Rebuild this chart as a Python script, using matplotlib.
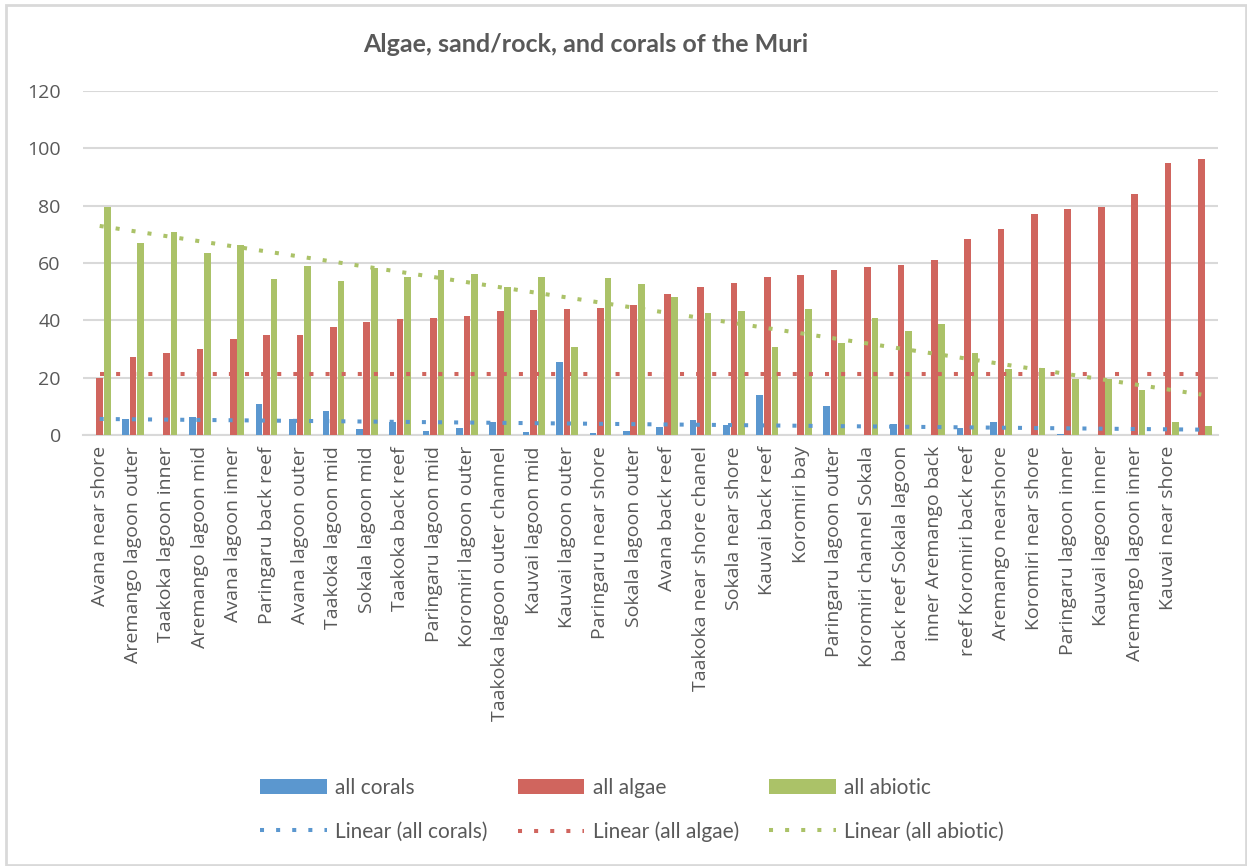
import numpy as np
import matplotlib
matplotlib.use('Agg')
import matplotlib.pyplot as plt
from matplotlib.patches import Rectangle

# survey sites along the Muri lagoon, sorted by algae cover
sites = ['Avana near shore', 'Aremango lagoon outer', 'Taakoka lagoon inner',
         'Aremango lagoon mid', 'Avana lagoon inner', 'Paringaru back reef',
         'Avana lagoon outer', 'Taakoka lagoon mid', 'Sokala lagoon mid',
         'Taakoka back reef', 'Paringaru lagoon mid', 'Koromiri lagoon outer',
         'Taakoka lagoon outer channel', 'Kauvai lagoon mid', 'Kauvai lagoon outer',
         'Paringaru near shore', 'Sokala lagoon outer', 'Avana back reef',
         'Taakoka near shore chanel', 'Sokala near shore', 'Kauvai back reef',
         'Koromiri bay', 'Paringaru lagoon outer', 'Koromiri channel Sokala',
         'back reef Sokala lagoon', 'inner Aremango back', 'reef Koromiri back reef',
         'Aremango nearshore', 'Koromiri near shore', 'Paringaru lagoon inner',
         'Kauvai lagoon inner', 'Aremango lagoon inner', 'Kauvai near shore', '']

corals = [0, 5.7, 0, 6.3, 0, 10.9, 5.7, 8.3, 2.1, 4.4, 1.4, 2.3, 4.4, 1.0, 25.3, 0.6, 1.5,
          2.7, 5.3, 3.5, 14.0, 0, 10.0, 0, 4.0, 0, 2.4, 4.6, 0, 0.5, 0, 0, 0, 0]
algae = [20.0, 27.1, 28.7, 29.9, 33.6, 34.8, 34.8, 37.8, 39.5, 40.6, 40.8, 41.4, 43.3,
         43.6, 43.8, 44.3, 45.5, 49.2, 51.7, 53.0, 55.1, 55.9, 57.6, 58.7, 59.4, 61.2,
         68.3, 71.7, 77.1, 79.0, 79.7, 84.0, 94.9, 96.4]
abiotic = [79.7, 67.1, 70.9, 63.4, 66.2, 54.3, 59.1, 53.6, 58.1, 55.0, 57.6, 56.0, 51.7,
           55.1, 30.7, 54.7, 52.6, 48.0, 42.6, 43.1, 30.7, 44.0, 32.2, 40.7, 36.3, 38.7,
           28.5, 22.9, 23.2, 19.7, 19.7, 15.6, 4.6, 3.3]
# the algae trendline in the workbook sits flat at this level
algae_trend = [21.2, 21.2]

c_blue = '#5B97CF'
c_red = '#D0655E'
c_green = '#ABC268'
txt = '#595959'
grid = '#D9D9D9'

fig = plt.figure(figsize=(12.47, 8.66), dpi=100)
ax = fig.add_axes([83 / 1247, 1 - 435 / 866, (1218 - 83) / 1247, (435 - 91) / 866])

x = np.arange(len(sites))
w = 0.2
off = 0.225
b1 = ax.bar(x - off, corals, w, color=c_blue, label='all corals', zorder=2)
b2 = ax.bar(x, algae, w, color=c_red, label='all algae', zorder=2)
b3 = ax.bar(x + off, abiotic, w, color=c_green, label='all abiotic', zorder=2)

# linear trendlines over the category index (1..n)
n = np.arange(1, len(sites) + 1)
dots = dict(linestyle=(0, (1, 3)), linewidth=2.9, dash_capstyle='butt', zorder=3)
kc = np.polyfit(n, corals, 1)
kb = np.polyfit(n, abiotic, 1)
ends = np.array([1, len(sites)])
t1, = ax.plot(ends - 1, np.polyval(kc, ends), color=c_blue, label='Linear (all corals)', **dots)
t2, = ax.plot(ends - 1, algae_trend, color=c_red, label='Linear (all algae)', **dots)
t3, = ax.plot(ends - 1, np.polyval(kb, ends), color=c_green, label='Linear (all abiotic)', **dots)

ax.set_ylim(0, 120)
ax.set_xlim(-0.5, len(sites) - 0.5)
ax.set_yticks(range(0, 121, 20))
ax.yaxis.grid(True, color=grid, linewidth=1.5, zorder=0)
ax.set_axisbelow(True)
for s in ['top', 'right', 'left']:
    ax.spines[s].set_visible(False)
ax.spines['bottom'].set_color(grid)
ax.spines['bottom'].set_linewidth(1.5)
ax.spines['bottom'].set_zorder(1)
ax.tick_params(axis='both', length=0, colors=txt)
ax.tick_params(axis='y', pad=16, labelsize=14)
for lab in ax.get_yticklabels():
    lab.set_fontfamily('Open Sans')
ax.set_xticks(x)
ax.set_xticklabels(sites, rotation=90, fontsize=14, family='Open Sans', color=txt)
ax.tick_params(axis='x', pad=8)

fig.text(586 / 1247, 1 - 45 / 866, 'Algae, sand/rock, and corals of the Muri',
         ha='center', va='center', fontsize=18, fontweight='bold', family='Lato', color=txt)

leg = fig.legend([b1, t1, b2, t2, b3, t3],
                 ['all corals', 'Linear (all corals)', 'all algae', 'Linear (all algae)',
                  'all abiotic', 'Linear (all abiotic)'],
                 ncol=3, loc='center', bbox_to_anchor=(632 / 1247, 1 - 810 / 866),
                 frameon=False, handlelength=3.2, handleheight=0.75, labelspacing=1.15,
                 columnspacing=1.45, handletextpad=0.4, prop={'family': 'Lato', 'size': 15})
for t in leg.get_texts():
    t.set_color(txt)

# chart area border
fig.patches.append(Rectangle((6 / 1247, 1 - 865 / 866), 1239.5 / 1247, 860.5 / 866,
                             transform=fig.transFigure, fill=False, edgecolor=grid,
                             linewidth=2, zorder=0))

fig.savefig('out.png', dpi=100)
